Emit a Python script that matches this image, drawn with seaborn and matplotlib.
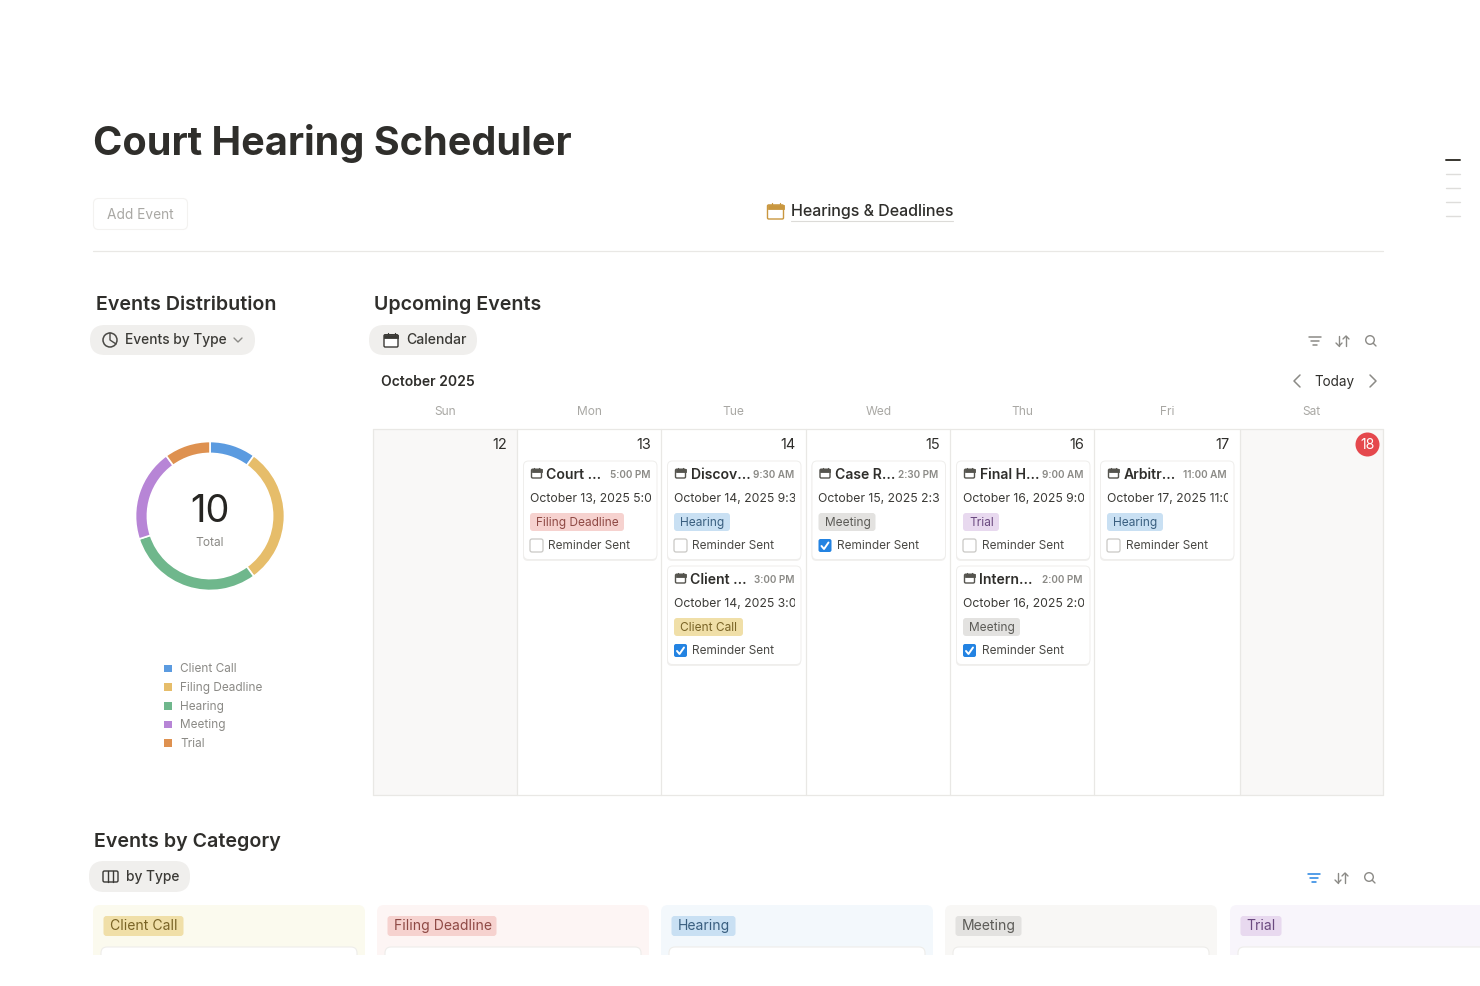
import matplotlib
matplotlib.use("Agg")
import matplotlib.pyplot as plt
import seaborn as sns
from matplotlib.patches import FancyBboxPatch, Rectangle, Circle

# chart data
event_types = ["Client Call", "Filing Deadline", "Hearing", "Meeting", "Trial"]
event_counts = [1, 3, 3, 2, 1]
donut_colors = ["#5b9be0", "#e6bd6a", "#6fb78c", "#b785d6", "#de9150"]

weekdays = ["Sun", "Mon", "Tue", "Wed", "Thu", "Fri", "Sat"]
day_numbers = [12, 13, 14, 15, 16, 17, 18]

event_column = [1, 2, 2, 3, 4, 4, 5]
event_slot = [0, 0, 1, 0, 0, 1, 0]
event_titles = ["Court ...", "Discov...", "Client ...", "Case R...", "Final H...", "Intern...", "Arbitr..."]
event_times = ["5:00 PM", "9:30 AM", "3:00 PM", "2:30 PM", "9:00 AM", "2:00 PM", "11:00 AM"]
event_dates = ["October 13, 2025 5:00 PM", "October 14, 2025 9:30 AM", "October 14, 2025 3:00 PM",
               "October 15, 2025 2:30 PM", "October 16, 2025 9:00 AM", "October 16, 2025 2:00 PM",
               "October 17, 2025 11:00 AM"]
event_tags = ["Filing Deadline", "Hearing", "Client Call", "Meeting", "Trial", "Meeting", "Hearing"]
event_reminded = [False, False, True, True, False, True, False]

tag_bg = {"Client Call": "#f0dfa8", "Filing Deadline": "#f6d2cf", "Hearing": "#c9e0f3",
          "Meeting": "#e3e2e0", "Trial": "#e8d9ef"}
tag_fg = {"Client Call": "#7a6426", "Filing Deadline": "#8f4a45", "Hearing": "#3a5f80",
          "Meeting": "#5c5b57", "Trial": "#6b4a80"}
tag_width = {"Client Call": 69, "Filing Deadline": 94, "Hearing": 56, "Meeting": 57, "Trial": 36}
board_tag_width = {"Client Call": 80, "Filing Deadline": 109, "Hearing": 64, "Meeting": 66, "Trial": 41}
board_bg = ["#fbfaee", "#fdf5f4", "#f3f8fc", "#f8f7f5", "#f8f5fb"]

sns.set_theme(style="white")
plt.rcParams["font.family"] = ["Inter", "DejaVu Sans"]

DARK = "#2f2e2b"
GREY = "#8b8a86"
LIGHT = "#a9a8a4"
LINE = "#e9e8e5"
col_x = [373, 517, 661, 805.5, 950, 1094, 1239.5, 1383]

fig = plt.figure(figsize=(14.8, 9.87), dpi=100, facecolor="white")
ax = fig.add_axes([0, 0, 1, 1])


def box(x, y, w, h, r=0, fc="white", ec="none", lw=0, z=2):
    p = FancyBboxPatch((x, y), w, h, boxstyle=f"round,pad=0,rounding_size={r}",
                       fc=fc, ec=ec, lw=lw, zorder=z)
    ax.add_patch(p)
    return p


def label(x, y, s, px=14, color=DARK, weight="normal", ha="left", z=6):
    return ax.text(x, y, s, fontsize=px * 0.72, color=color, fontweight=weight,
                   ha=ha, va="center", zorder=z)


def stroke(xs, ys, color=GREY, lw=1.0, z=6):
    ax.plot(xs, ys, color=color, lw=lw, zorder=z, solid_capstyle="round")


def calendar_icon(x, y, size, color):
    # x, y is the top left corner
    box(x, y + size * 0.12, size, size * 0.88, r=1.2, fc="white", ec=color, lw=1.0, z=6)
    ax.add_patch(Rectangle((x, y + size * 0.12), size, size * 0.24, fc=color, ec=color, lw=0.6, zorder=7))
    stroke([x + size * 0.25] * 2, [y, y + size * 0.2], color, 0.9, 7)
    stroke([x + size * 0.75] * 2, [y, y + size * 0.2], color, 0.9, 7)


def tools(x, y, filter_color=GREY):
    for dy, half in zip([-4, 0, 4], [6, 4, 2]):
        stroke([x - half, x + half], [y + dy, y + dy], filter_color, 1.1)
    stroke([x + 24, x + 24], [y - 5, y + 5], GREY, 1.0)
    stroke([x + 21, x + 24, x + 27], [y + 2, y + 5, y + 2], GREY, 1.0)
    stroke([x + 31, x + 31], [y - 5, y + 5], GREY, 1.0)
    stroke([x + 28, x + 31, x + 34], [y - 2, y - 5, y - 2], GREY, 1.0)
    ax.add_patch(Circle((x + 55, y - 1), 4.3, fc="none", ec=GREY, lw=1.0, zorder=6))
    stroke([x + 58.2, x + 61], [y + 2.2, y + 5], GREY, 1.0)


# header
label(93, 142, "Court Hearing Scheduler", px=39.6, weight="bold")
box(93.5, 197.5, 94, 31, r=5, fc="white", ec="#f3f2f0", lw=0.8)
label(107, 213, "Add Event", px=13.7, color=LIGHT)
calendar_icon(767.5, 202, 16, "#c9973f")
label(791, 209.5, "Hearings & Deadlines", px=16, weight="medium")
stroke([791, 953], [220, 220], "#dcdbd8", 0.8)
stroke([93, 1383], [250, 250], LINE, 0.9)

# outline dashes on the right
for i, yy in enumerate([159, 173, 187, 201, 215]):
    stroke([1446, 1460], [yy, yy], "#37352f" if i == 0 else "#dedddb", 1.4 if i == 0 else 1.0)

# left column: donut
label(95.5, 303, "Events Distribution", px=19.6, weight="semibold")
box(90, 324, 165, 30, r=15, fc="#f0efed")
ax.add_patch(Circle((110, 339), 7, fc="none", ec="#4a4945", lw=1.1, zorder=6))
stroke([110, 110, 116], [332, 339, 343], "#4a4945", 1.0)
label(125, 338.5, "Events by Type", px=13.8, weight="medium", color="#3b3a36")
stroke([234, 238, 242], [337, 341, 337], GREY, 1.0)

label(210, 510, "10", px=38, ha="center", color="#262522")
label(210, 541, "Total", px=12, ha="center", color=GREY)

legend_y = [667.5, 686, 705, 723.5, 742]
sns.scatterplot(x=[168] * 5, y=legend_y, hue=event_types, hue_order=event_types,
                palette=donut_colors, marker="s", s=30, linewidth=0, legend=False, ax=ax, zorder=6)
for yy, name in zip(legend_y, event_types):
    label(180, yy, name, px=11.8, color=GREY)

# calendar section
label(374.5, 303, "Upcoming Events", px=19.6, weight="semibold")
box(369, 324, 108, 30, r=15, fc="#f0efed")
calendar_icon(384, 332, 14, "#3b3a36")
label(406, 338.5, "Calendar", px=14, weight="medium", color="#3b3a36")
tools(1315, 340)
label(381, 380, "October 2025", px=13.9, weight="semibold")
stroke([1300, 1294, 1300], [374, 380, 386], GREY, 1.1)
label(1334.5, 380, "Today", px=13.5, ha="center")
stroke([1370, 1376, 1370], [374, 380, 386], GREY, 1.1)

for i, day in enumerate(weekdays):
    label((col_x[i] + col_x[i + 1]) / 2 + 0.5, 410.5, day, px=12, color=LIGHT, ha="center")

cal_top, cal_bottom = 427.5, 794
for i in [0, 6]:
    ax.add_patch(Rectangle((col_x[i], cal_top), col_x[i + 1] - col_x[i], cal_bottom - cal_top,
                           fc="#f9f8f7", ec="none", zorder=1))
for xx in col_x:
    stroke([xx, xx], [cal_top, cal_bottom], LINE, 0.9, 3)
stroke([col_x[0], col_x[-1]], [cal_top, cal_top], LINE, 0.9, 3)
stroke([col_x[0], col_x[-1]], [cal_bottom, cal_bottom], LINE, 0.9, 3)

for i, num in enumerate(day_numbers):
    if num == 18:
        ax.add_patch(Circle((1367.5, 443.5), 12, fc="#e5484d", ec="none", zorder=5))
        label(1367.5, 443.5, str(num), px=14, color="white", ha="center")
    else:
        label(col_x[i + 1] - 10, 443.5, str(num), px=14.5, ha="right")

# event cards
for j in range(len(event_titles)):
    x0 = col_x[event_column[j]] + 6.5
    y0 = 460 + event_slot[j] * 105
    tag = event_tags[j]
    box(x0 - 0.5, y0 + 1, 134, 99, r=5, fc="#f1f0ee", z=3)
    box(x0, y0, 133.5, 98.5, r=5, fc="white", ec="#efeeec", lw=0.7, z=4)
    calendar_icon(x0 + 8, y0 + 7, 10, "#55544e")
    label(x0 + 23, y0 + 13, event_titles[j], px=14, weight="semibold")
    label(x0 + 126.5, y0 + 13.5, event_times[j], px=10, color=GREY, weight="semibold", ha="right")
    t = label(x0 + 6.5, y0 + 37.5, event_dates[j], px=12.2, color="#3b3a36")
    clip = Rectangle((x0 + 5, y0 + 20), 122, 35, transform=ax.transData)
    t.set_clip_path(clip)
    t.set_clip_on(True)
    box(x0 + 6.5, y0 + 52, tag_width[tag], 18, r=3, fc=tag_bg[tag], z=5)
    label(x0 + 12.5, y0 + 61, tag, px=11.9, color=tag_fg[tag])
    if event_reminded[j]:
        box(x0 + 6.5, y0 + 78, 13, 13, r=2, fc="#2383e2", z=5)
        stroke([x0 + 9.5, x0 + 12, x0 + 16.5], [y0 + 85, y0 + 88, y0 + 81.5], "white", 1.4)
    else:
        box(x0 + 6.5, y0 + 78, 13, 13, r=2, fc="white", ec="#c9c8c5", lw=0.9, z=5)
    label(x0 + 25, y0 + 84.5, "Reminder Sent", px=11.8, color="#4a4945")

# board section
label(94.5, 840, "Events by Category", px=19.6, weight="semibold")
box(89, 860, 101, 31, r=15, fc="#f0efed")
box(103, 870, 15, 11, r=1.5, fc="none", ec="#3b3a36", lw=1.0, z=6)
stroke([108, 108], [870, 881], "#3b3a36", 1.0)
stroke([113, 113], [870, 881], "#3b3a36", 1.0)
label(126, 875.5, "by Type", px=13.8, weight="medium", color="#3b3a36")
tools(1314, 877, filter_color="#2383e2")

board_x = [93, 377, 661, 945, 1230]
for xx, name, bg in zip(board_x, event_types, board_bg):
    box(xx, 904, 272, 70, r=7, fc=bg, z=2)
    box(xx + 8, 946, 256, 30, r=6, fc="white", ec="#eeedea", lw=0.8, z=3)
    box(xx + 10.5, 915, board_tag_width[name], 20, r=3, fc=tag_bg[name], z=4)
    label(xx + 16.5, 924.5, name, px=14, color=tag_fg[name])
ax.add_patch(Rectangle((0, 954), 1480, 34, fc="white", ec="none", zorder=8))

ax.set_xlim(0, 1480)
ax.set_ylim(985, -2)
ax.axis("off")

# donut, separate axes so the pie stays round
ax_d = fig.add_axes([(210 - 74.5) / 1480, 1 - (517 + 74.5) / 987, 149 / 1480, 149 / 987])
ax_d.pie(event_counts, colors=donut_colors, startangle=90, counterclock=False, radius=1.0,
         wedgeprops={"width": 0.16, "edgecolor": "white", "linewidth": 1.2})
ax_d.set_xlim(-1, 1)
ax_d.set_ylim(-1, 1)

fig.savefig("out.png", dpi=100)
